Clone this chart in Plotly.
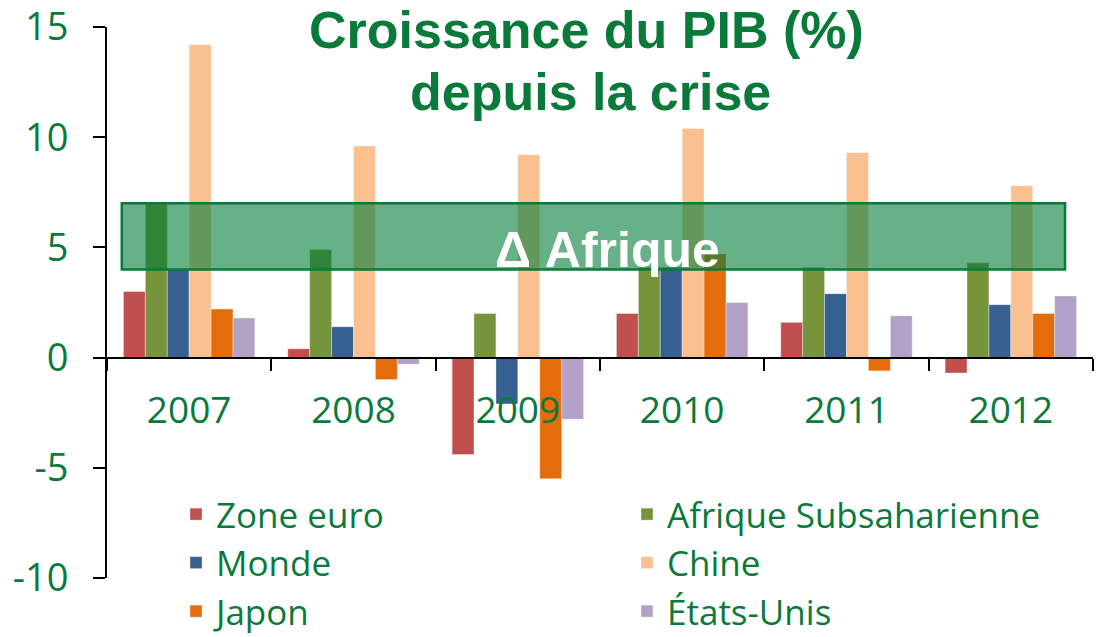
import plotly.graph_objects as go

years = ["2007", "2008", "2009", "2010", "2011", "2012"]
zone_euro = [3.0, 0.4, -4.4, 2.0, 1.6, -0.7]
afrique_sub = [7.0, 4.9, 2.0, 4.1, 4.1, 4.3]
monde = [4.0, 1.4, -2.1, 4.1, 2.9, 2.4]
chine = [14.2, 9.6, 9.2, 10.4, 9.3, 7.8]
japon = [2.2, -1.0, -5.5, 4.7, -0.6, 2.0]
etats_unis = [1.8, -0.3, -2.8, 2.5, 1.9, 2.8]

series_names = ["Zone euro", "Afrique Subsaharienne", "Monde", "Chine", "Japon", "États-Unis"]
series_values = [zone_euro, afrique_sub, monde, chine, japon, etats_unis]
series_colors = ["#C0504D", "#77933C", "#366092", "#FAC090", "#E46C0A", "#B3A2C7"]

y_tickvals = [-10, -5, 0, 5, 10, 15]
y_ticktext = ["-10", "-5", "0", "5", "10", "15"]

band_low, band_high = 4.0, 7.0
band_label = "Δ Afrique"
title_line1 = "Croissance du PIB (%)"
title_line2 = "depuis la crise"

GREEN = "#0a7a3b"
FONT = "Open Sans"

fig = go.Figure()
for name, vals, col in zip(series_names, series_values, series_colors):
    fig.add_trace(go.Bar(
        x=years, y=vals, name=name,
        marker=dict(color=col, line=dict(color="rgba(255,255,255,0.6)", width=0.6)),
    ))

# plot geometry (page body margin removed via post_script)
L, T, B, R = 107, 27, 59, 10
zero_pos = (0 - (-10)) / 25.0

fig.update_layout(
    width=1103, height=637,
    margin=dict(l=L, r=R, t=T, b=B, autoexpand=False),
    paper_bgcolor="white", plot_bgcolor="white",
    barmode="group", bargap=0.2, bargroupgap=0,
    showlegend=True,
    legend=dict(
        orientation="h", x=0.070, y=0.169, xanchor="left", yanchor="top",
        entrywidth=406, entrywidthmode="pixels",
        font=dict(family=FONT, size=35, color=GREEN),
        bgcolor="rgba(0,0,0,0)", traceorder="normal",
    ),
    xaxis=dict(
        type="category", anchor="free", position=zero_pos,
        showline=True, linecolor="black", linewidth=2,
        ticks="outside", tickson="boundaries", ticklen=12, tickwidth=2, tickcolor="black",
        tickfont=dict(family=FONT, size=37, color=GREEN),
        ticklabelstandoff=20, ticklabeloverflow="allow",
        showgrid=False, zeroline=False,
        range=[-0.5, 5.5],
    ),
    yaxis=dict(
        range=[-10, 15], tickvals=y_tickvals, ticktext=y_ticktext,
        showline=True, linecolor="black", linewidth=2,
        ticks="outside", ticklen=12, tickwidth=2, tickcolor="black",
        tickfont=dict(family=FONT, size=38, color=GREEN),
        ticklabelstandoff=17, ticklabeloverflow="allow",
        showgrid=False, zeroline=False,
    ),
)

# Afrique band
fig.add_shape(
    type="rect", xref="x", yref="y",
    x0=-0.41, x1=5.33, y0=band_low, y1=band_high,
    fillcolor="rgba(0,125,55,0.60)", line=dict(color=GREEN, width=2.5),
    layer="above",
)
fig.add_annotation(
    text=f"<b>{band_label}</b>", xref="paper", yref="y",
    x=0.508, y=4.9, showarrow=False,
    font=dict(family="Liberation Sans", size=50, color="white"),
    xanchor="center", yanchor="middle",
)

# title
fig.add_annotation(
    text=f"<b>{title_line1}</b>", xref="paper", yref="paper",
    x=0.486, y=0.994, showarrow=False, xanchor="center", yanchor="middle",
    font=dict(family="Liberation Sans", size=52, color=GREEN),
)
fig.add_annotation(
    text=f"<b>{title_line2}</b>", xref="paper", yref="paper",
    x=0.490, y=0.882, showarrow=False, xanchor="center", yanchor="middle",
    font=dict(family="Liberation Sans", size=52, color=GREEN),
)

fig.write_html(
    "out.html",
    config={"displayModeBar": False},
    post_script="document.body.style.margin='0';document.body.style.overflow='hidden';",
)
